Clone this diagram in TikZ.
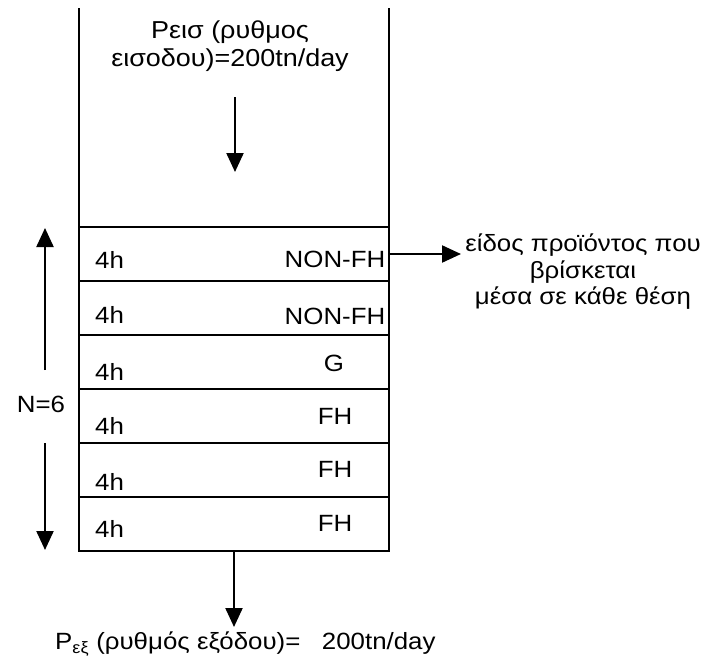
\documentclass[tikz,border=0pt]{standalone}
\usepackage{fontspec}
\setmainfont[FakeStretch=1.1]{Liberation Sans}
\usetikzlibrary{arrows.meta}
\begin{document}
\begin{tikzpicture}[x=1pt,y=-1pt,
  every node/.style={font=\fontsize{23.5}{28}\selectfont, inner sep=0pt},
  wall/.style={line width=2.6pt},
  rowbox/.style={draw, line width=2.6pt, minimum width=310pt, minimum height=54pt, inner sep=0pt},
  arr/.style={line width=2.2pt, -{Triangle[width=17pt,length=19pt]}},
  lbl/.style={anchor=center},
  hr/.style={anchor=west}]
\useasboundingbox (0,0) rectangle (712,659);
% walls
\coordinate (wl) at (79,8);
\coordinate (wr) at (389,8);
\draw[wall] (wl) -- (79,228);
\draw[wall] (wr) -- (389,228);
% rows
\node[rowbox] (r1) at (234,254) {};
\node[rowbox] (r2) at (234,308) {};
\node[rowbox] (r3) at (234,362) {};
\node[rowbox] (r4) at (234,416) {};
\node[rowbox] (r5) at (234,470) {};
\node[rowbox] (r6) at (234,524) {};
% 4h labels
\node[hr] (h1) at (95,260) {4h};
\node[hr] (h2) at (95,315) {4h};
\node[hr] (h3) at (95,372) {4h};
\node[hr] (h4) at (95,426) {4h};
\node[hr] (h5) at (95,482) {4h};
\node[hr] (h6) at (95,529) {4h};
% type labels
\node[lbl] (t1) at (335,259) {NON-FH};
\node[lbl] (t2) at (335,316) {NON-FH};
\node[lbl] (t3) at (334,363) {G};
\node[lbl] (t4) at (335,416) {FH};
\node[lbl] (t5) at (335,469) {FH};
\node[lbl] (t6) at (335,523) {FH};
% input
\node[align=center, font=\fontsize{24.5}{27.5}\selectfont] (in) at (230,46) {Ρεισ (ρυθμος\\εισοδου)=200tn/day};
\coordinate (ia) at (235,97);
\coordinate (ib) at (235,172);
\draw[arr] (ia) -- (ib);
% N=6
\node (N) at (41,404) {N=6};
\coordinate (nu1) at (45,370);
\coordinate (nu2) at (45,228);
\coordinate (nd1) at (45,443);
\coordinate (nd2) at (45,550);
\draw[arr] (nu1) -- (nu2);
\draw[arr] (nd1) -- (nd2);
% right annotation
\node[align=center, font=\fontsize{23.5}{26.5}\selectfont] (ann) at (583,272) {είδος προϊόντος που\\βρίσκεται\\μέσα σε κάθε θέση};
\coordinate (ra) at (461,254);
\draw[arr] (r1.east) -- (ra);
% output
\coordinate (ob) at (234,627);
\draw[arr] (r6.south) -- (ob);
\node[anchor=west] (out) at (55,644) {P\textsubscript{εξ} (ρυθμός εξόδου)=\ \ \ 200tn/day};
\end{tikzpicture}
\end{document}
